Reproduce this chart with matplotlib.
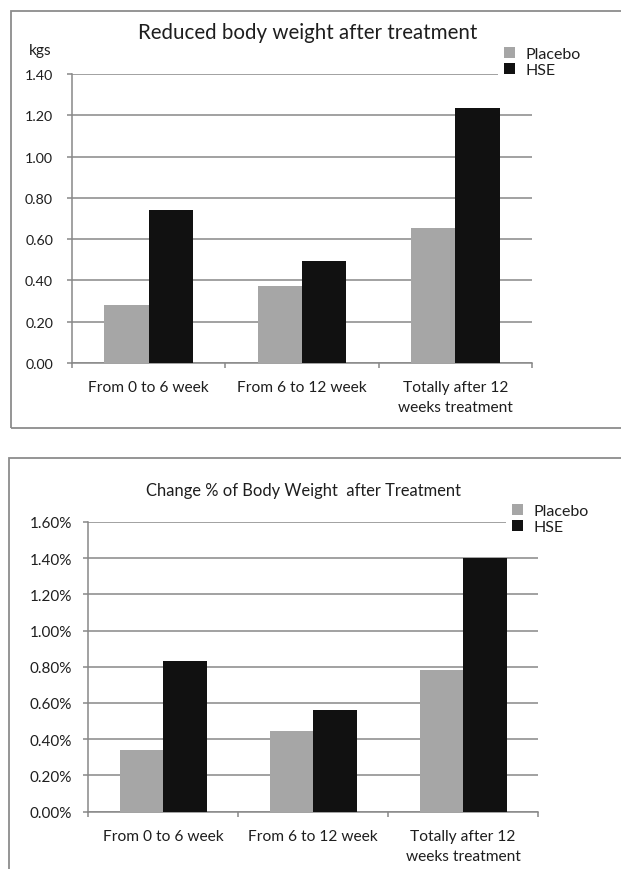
import matplotlib
matplotlib.use("Agg")
import matplotlib.pyplot as plt
from matplotlib.patches import Rectangle, Patch
import numpy as np

plt.rcParams['font.family'] = ['Lato', 'DejaVu Sans']

categories = ["From 0 to 6 week", "From 6 to 12 week", "Totally after 12\nweeks treatment"]
series = ["Placebo", "HSE"]
kg_placebo = [0.28, 0.375, 0.655]
kg_hse = [0.74, 0.495, 1.235]
pct_placebo = [0.342, 0.447, 0.782]
pct_hse = [0.83, 0.563, 1.40]
kg_ticks = [0.0, 0.2, 0.4, 0.6, 0.8, 1.0, 1.2, 1.4]
pct_ticks = [0.0, 0.2, 0.4, 0.6, 0.8, 1.0, 1.2, 1.4, 1.6]

W, H = 621, 870
fig = plt.figure(figsize=(W / 100, H / 100), dpi=100)
fig.patch.set_facecolor('white')

col_p = '#a6a6a6'
col_h = '#111111'
grid_c = '#888888'
txt_c = '#1e1e1e'

def px_axes(x0, y0, x1, y1):
    return fig.add_axes([x0 / W, 1 - y1 / H, (x1 - x0) / W, (y1 - y0) / H])

# outer frames
fig.patches.append(Rectangle((11 / W, 1 - 429 / H), 640 / W, 417 / H, transform=fig.transFigure,
                             fill=False, edgecolor='#8c8c8c', lw=1.3))
fig.patches.append(Rectangle((9 / W, -0.05), 640 / W, (870 - 459) / H + 0.05, transform=fig.transFigure,
                             fill=False, edgecolor='#8c8c8c', lw=1.3))

def draw(ax, pv, hv, ticks, ymax, fmt, ysize, ypad):
    x = np.arange(len(categories))
    w = 0.29
    ax.bar(x - w / 2, pv, w, color=col_p, zorder=3, label=series[0])
    ax.bar(x + w / 2, hv, w, color=col_h, zorder=3, label=series[1])
    ax.set_xlim(-0.5, len(categories) - 0.5)
    ax.set_ylim(0, ymax)
    ax.set_yticks(ticks)
    ax.set_yticklabels([fmt(t) for t in ticks], fontsize=ysize, color=txt_c)
    ax.set_xticks(x)
    ax.set_xticklabels(categories, fontsize=11.2, color=txt_c, linespacing=1.55)
    ax.set_xticks(np.arange(len(categories) + 1) - 0.5, minor=True)
    ax.tick_params(axis='x', which='major', length=0, pad=12.5)
    ax.tick_params(axis='x', which='minor', length=3.8, color=grid_c, width=1.1)
    ax.tick_params(axis='y', length=3.6, color=grid_c, width=1.1, pad=ypad)
    ax.yaxis.grid(True, color=grid_c, lw=1.1, zorder=0)
    ax.set_axisbelow(True)
    for s in ['top', 'right']:
        ax.spines[s].set_visible(False)
    for s in ['left', 'bottom']:
        ax.spines[s].set_color(grid_c)
        ax.spines[s].set_linewidth(1.1)

def legend_at(x_px, y_px):
    handles = [Patch(facecolor=col_p), Patch(facecolor=col_h)]
    leg = fig.legend(handles, series, loc='upper left', bbox_to_anchor=(x_px / W, 1 - y_px / H),
                     frameon=True, fontsize=11.5, handlelength=0.68, handleheight=0.68,
                     handletextpad=0.62, labelspacing=0.1, borderpad=0.4, borderaxespad=0)
    fr = leg.get_frame()
    fr.set_facecolor('white')
    fr.set_edgecolor('none')
    fr.set_alpha(1)
    fr.set_boxstyle('square', pad=0)
    for t in leg.get_texts():
        t.set_color(txt_c)
    return leg

# top chart
ax1 = px_axes(72, 75, 532, 364)
draw(ax1, kg_placebo, kg_hse, kg_ticks, 1.4, lambda t: f"{t:.2f}", 10.3, 10)
fig.text(308 / W, 1 - 33 / H, "Reduced body weight after treatment", ha='center', va='center',
         fontsize=14.8, color=txt_c)
fig.text(40 / W, 1 - 51 / H, "kgs", ha='center', va='center', fontsize=11.2, color=txt_c)
legend_at(498, 42)

# bottom chart
ax2 = px_axes(88, 522.8, 538, 812.7)
draw(ax2, pct_placebo, pct_hse, pct_ticks, 1.6, lambda t: f"{t:.2f}%", 11.0, 8)
fig.text(304 / W, 1 - 491 / H, "Change % of Body Weight  after Treatment", ha='center', va='center',
         fontsize=11.9, color=txt_c)
legend_at(506, 499)

fig.savefig("out.png", dpi=100, facecolor='white')
